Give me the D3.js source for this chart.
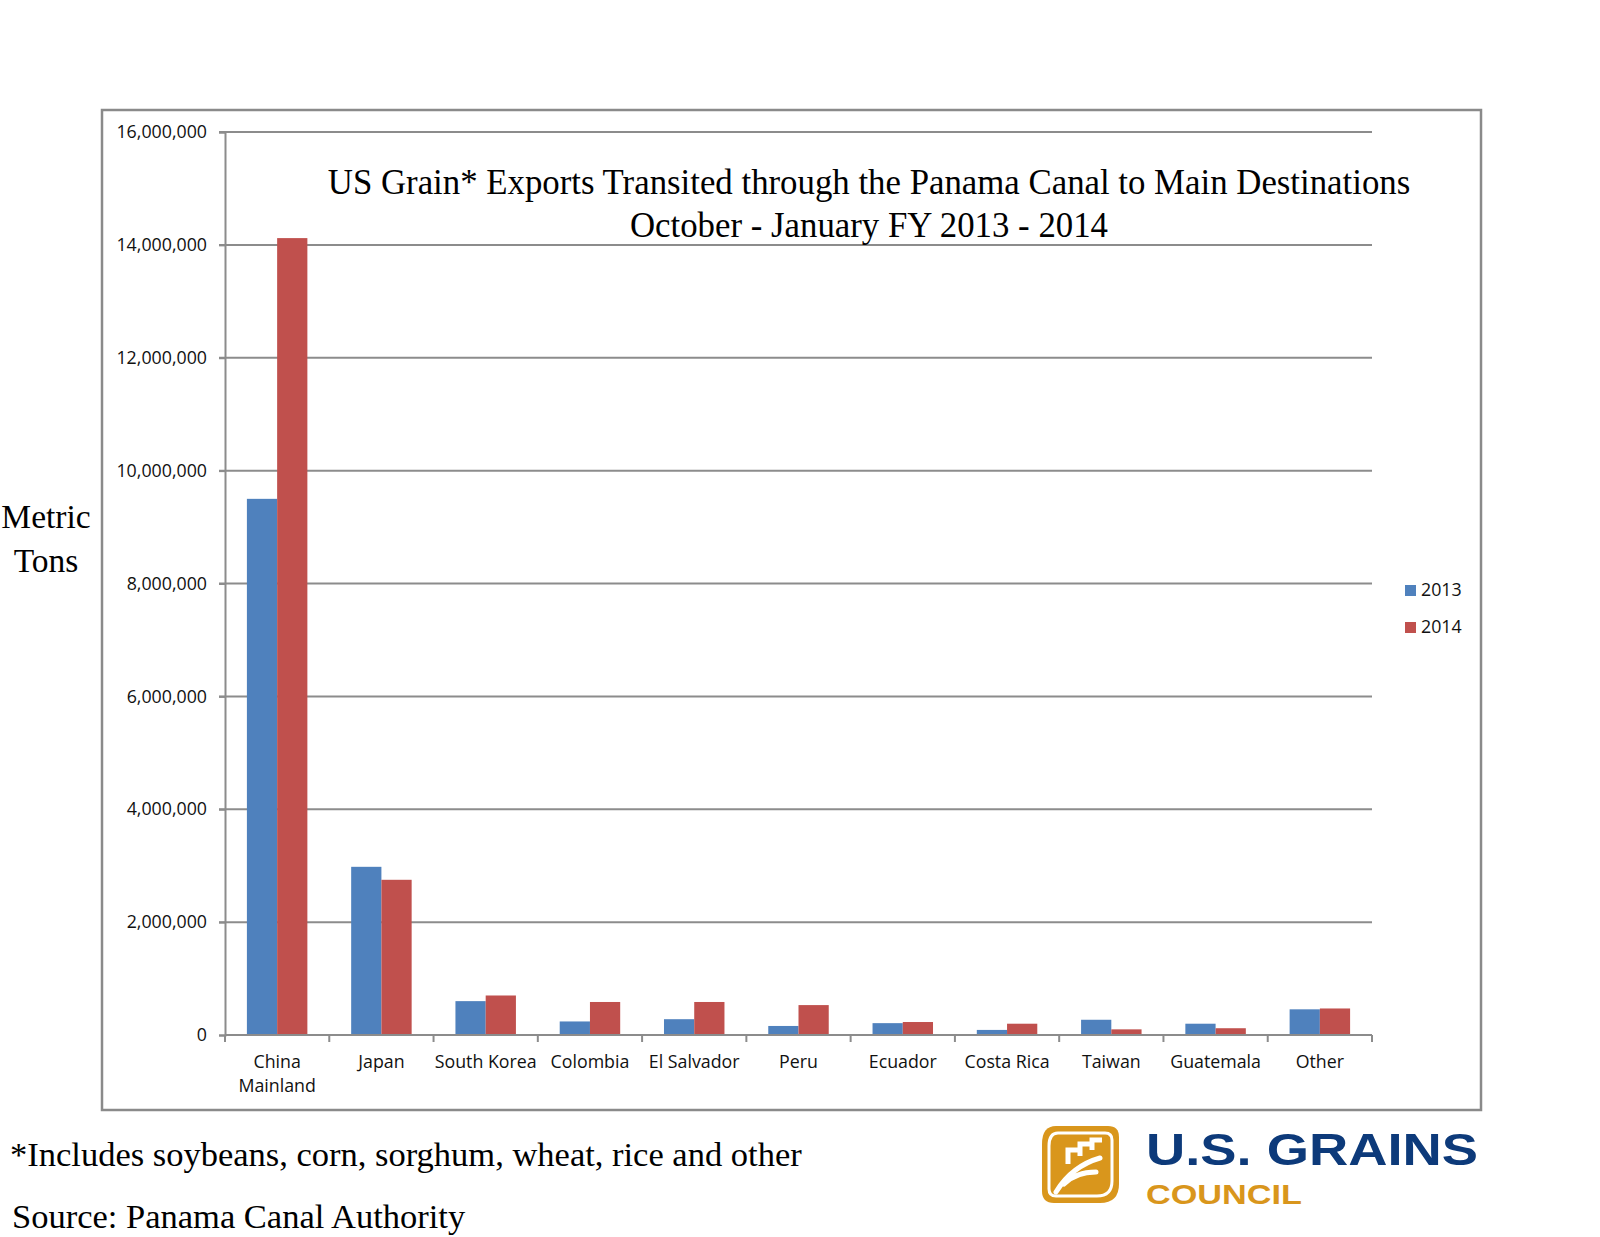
<!DOCTYPE html>
<html>
<head>
<meta charset="utf-8">
<script src="https://cdn.jsdelivr.net/npm/d3@7"></script>
<style>
  body { margin: 0; background: #fff; }
  svg { display: block; }
</style>
</head>
<body>
<svg id="graphic" width="1600" height="1237"></svg>
<script>
const categories = ['China Mainland', 'Japan', 'South Korea', 'Colombia', 'El Salvador', 'Peru',
  'Ecuador', 'Costa Rica', 'Taiwan', 'Guatemala', 'Other'];
const series = ['2013', '2014'];
const values2013 = [9500000, 2980000, 600000, 240000, 280000, 160000, 210000, 90000, 270000, 200000, 455000];
const values2014 = [14120000, 2750000, 700000, 585000, 585000, 530000, 230000, 200000, 100000, 120000, 470000];
const yTicks = [0, 2000000, 4000000, 6000000, 8000000, 10000000, 12000000, 14000000, 16000000];
const titleLines = ['US Grain* Exports Transited through the Panama Canal to Main Destinations',
  'October - January FY 2013 - 2014'];

const colors = {'2013': '#4f81bd', '2014': '#c0504d'};
const sans = '"Open Sans", "Liberation Sans", sans-serif';
const serif = '"Liberation Serif", "DejaVu Serif", serif';

const svg = d3.select('#graphic');

// outer chart frame
svg.append('rect')
    .attr('x', 102).attr('y', 110)
    .attr('width', 1379).attr('height', 1000)
    .attr('fill', 'none')
    .attr('stroke', '#8a8a8a')
    .attr('stroke-width', 2.5);

const xScale = d3.scaleBand()
    .domain(categories)
    .range([225, 1372])
    .paddingInner(0.42)
    .paddingOuter(0.21);

const xSub = d3.scaleBand()
    .domain(series)
    .range([0, xScale.bandwidth()]);

const yScale = d3.scaleLinear()
    .domain([0, 16000000])
    .range([1035, 132]);

// gridlines
svg.append('g')
    .selectAll('line')
    .data(yTicks.filter((d) => d > 0))
    .enter()
    .append('line')
    .attr('x1', 219)
    .attr('x2', 1372)
    .attr('y1', (d) => yScale(d))
    .attr('y2', (d) => yScale(d))
    .attr('stroke', '#8c8c8c')
    .attr('stroke-width', 2);

const yAxis = d3.axisLeft(yScale)
    .tickValues(yTicks)
    .tickSize(6)
    .tickPadding(12)
    .tickFormat(d3.format(','));

const gy = svg.append('g')
    .attr('transform', 'translate(225,0)')
    .call(yAxis);
gy.select('.domain').attr('stroke', '#8c8c8c').attr('stroke-width', 2);
gy.selectAll('.tick line').attr('stroke', '#8c8c8c').attr('stroke-width', 2);
gy.selectAll('.tick text')
    .attr('fill', '#111')
    .style('font-family', sans)
    .style('font-size', '17.8px');

// bars
const groups = svg.append('g')
    .selectAll('g')
    .data(categories)
    .enter()
    .append('g')
    .attr('transform', (d) => `translate(${xScale(d)},0)`);

groups.selectAll('rect')
    .data((d, i) => [
      {series: '2013', value: values2013[i]},
      {series: '2014', value: values2014[i]},
    ])
    .enter()
    .append('rect')
    .attr('x', (d) => xSub(d.series))
    .attr('width', xSub.bandwidth())
    .attr('y', (d) => yScale(d.value))
    .attr('height', (d) => yScale(0) - yScale(d.value))
    .attr('fill', (d) => colors[d.series]);

// x axis line + category boundary ticks
const step = xScale.step();
svg.append('line')
    .attr('x1', 225).attr('x2', 1372)
    .attr('y1', 1035).attr('y2', 1035)
    .attr('stroke', '#8c8c8c')
    .attr('stroke-width', 2);

svg.append('g')
    .selectAll('line')
    .data(d3.range(categories.length + 1))
    .enter()
    .append('line')
    .attr('x1', (i) => 225 + i * step)
    .attr('x2', (i) => 225 + i * step)
    .attr('y1', 1035)
    .attr('y2', 1042)
    .attr('stroke', '#8c8c8c')
    .attr('stroke-width', 2);

svg.append('g')
    .selectAll('text')
    .data(categories)
    .enter()
    .append('text')
    .attr('x', (d) => xScale(d) + xScale.bandwidth() / 2)
    .attr('y', 1068)
    .attr('text-anchor', 'middle')
    .attr('fill', '#111')
    .style('font-family', sans)
    .style('font-size', '17.8px')
    .each(function(d) {
      const words = d === 'China Mainland' ? ['China', 'Mainland'] : [d];
      d3.select(this).selectAll('tspan')
          .data(words)
          .enter()
          .append('tspan')
          .attr('x', xScale(d) + xScale.bandwidth() / 2)
          .attr('dy', (w, i) => i === 0 ? 0 : 24)
          .text((w) => w);
    });

// title
svg.append('g')
    .selectAll('text')
    .data(titleLines)
    .enter()
    .append('text')
    .attr('x', 869)
    .attr('y', (d, i) => 194 + i * 43)
    .attr('text-anchor', 'middle')
    .attr('fill', '#000')
    .style('font-family', serif)
    .style('font-size', '34.8px')
    .text((d) => d);

// y axis title
svg.append('text')
    .attr('x', 46)
    .attr('y', 528)
    .attr('text-anchor', 'middle')
    .style('font-family', serif)
    .style('font-size', '33.5px')
    .selectAll('tspan')
    .data(['Metric', 'Tons'])
    .enter()
    .append('tspan')
    .attr('x', 46)
    .attr('dy', (d, i) => i === 0 ? 0 : 44)
    .text((d) => d);

// legend
const legend = svg.append('g')
    .selectAll('g')
    .data(series)
    .enter()
    .append('g')
    .attr('transform', (d, i) => `translate(1405,${585 + i * 37})`);
legend.append('rect')
    .attr('width', 11).attr('height', 11)
    .attr('fill', (d) => colors[d]);
legend.append('text')
    .attr('x', 16).attr('y', 11)
    .attr('fill', '#111')
    .style('font-family', sans)
    .style('font-size', '17.8px')
    .text((d) => d);

// footnotes
svg.append('text')
    .attr('x', 10).attr('y', 1166)
    .style('font-family', serif)
    .style('font-size', '34.5px')
    .text('*Includes soybeans, corn, sorghum, wheat, rice and other');
svg.append('text')
    .attr('x', 12).attr('y', 1228)
    .style('font-family', serif)
    .style('font-size', '34.5px')
    .text('Source: Panama Canal Authority');

// logo
const logo = svg.append('g').attr('transform', 'translate(1042,1126)');
logo.append('path')
    .attr('d', 'M14,0 H66 Q77,0 77,11 V58 Q77,77 58,77 H12 Q0,77 0,65 V18 Q0,0 14,0 Z')
    .attr('fill', '#d9961c');
logo.append('path')
    .attr('d', 'M16,7 H63 Q70,7 70,14 V55 Q70,70 55,70 H14 Q7,70 7,63 V20 Q7,7 16,7 Z')
    .attr('fill', 'none')
    .attr('stroke', '#fff')
    .attr('stroke-width', 3);
logo.append('path')
    .attr('d', 'M14,66 Q30,40 58,32 M22,58 Q34,46 54,46')
    .attr('fill', 'none')
    .attr('stroke', '#fff')
    .attr('stroke-width', 5)
    .attr('stroke-linecap', 'round');
logo.append('path')
    .attr('d', 'M26,38 V24 H38 M38,30 V18 H50 M50,24 V14 H60')
    .attr('fill', 'none')
    .attr('stroke', '#fff')
    .attr('stroke-width', 5);
logo.append('text')
    .attr('x', 104).attr('y', 39)
    .attr('fill', '#0d3a7a')
    .attr('textLength', 332)
    .attr('lengthAdjust', 'spacingAndGlyphs')
    .style('font-family', '"Liberation Sans", Arial, sans-serif')
    .style('font-weight', 'bold')
    .style('font-size', '45px')
    .text('U.S. GRAINS');
logo.append('text')
    .attr('x', 104).attr('y', 78)
    .attr('fill', '#d9961c')
    .attr('textLength', 156)
    .attr('lengthAdjust', 'spacingAndGlyphs')
    .style('font-family', '"Liberation Sans", Arial, sans-serif')
    .style('font-weight', 'bold')
    .style('font-size', '28px')
    .text('COUNCIL');
</script>
</body>
</html>
